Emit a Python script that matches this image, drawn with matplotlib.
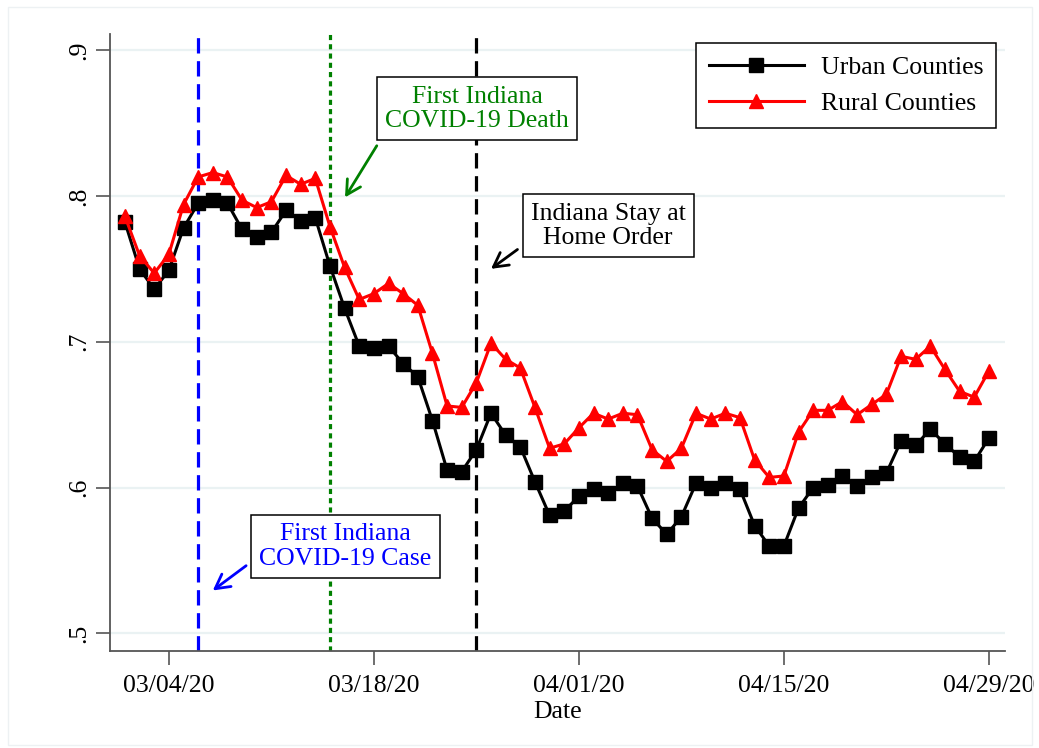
import numpy as np
import pandas as pd
import matplotlib
matplotlib.use('Agg')
import matplotlib.pyplot as plt
import matplotlib.dates as mdates
from matplotlib.patches import Rectangle

# DATA
urban = [0.782, 0.750, 0.736, 0.749, 0.778, 0.795, 0.797, 0.795, 0.777, 0.772,
         0.775, 0.790, 0.783, 0.785, 0.752, 0.723, 0.697, 0.696, 0.697, 0.685,
         0.676, 0.646, 0.612, 0.611, 0.626, 0.651, 0.636, 0.628, 0.604, 0.581,
         0.584, 0.594, 0.599, 0.596, 0.603, 0.601, 0.579, 0.568, 0.580, 0.603,
         0.600, 0.603, 0.599, 0.574, 0.560, 0.560, 0.586, 0.600, 0.602, 0.608,
         0.601, 0.607, 0.610, 0.632, 0.629, 0.640, 0.630, 0.621, 0.618, 0.634]
rural = [0.786, 0.759, 0.747, 0.760, 0.794, 0.813, 0.816, 0.813, 0.797, 0.792,
         0.796, 0.814, 0.808, 0.812, 0.779, 0.751, 0.729, 0.733, 0.740, 0.733,
         0.725, 0.692, 0.656, 0.655, 0.672, 0.699, 0.688, 0.682, 0.655, 0.627,
         0.630, 0.641, 0.651, 0.647, 0.651, 0.650, 0.626, 0.618, 0.627, 0.651,
         0.647, 0.651, 0.648, 0.619, 0.607, 0.608, 0.638, 0.653, 0.653, 0.659,
         0.650, 0.657, 0.664, 0.690, 0.688, 0.697, 0.681, 0.666, 0.662, 0.680]
start_date = '2020-03-01'
tick_dates = ['2020-03-04', '2020-03-18', '2020-04-01', '2020-04-15', '2020-04-29']
y_ticks = [0.5, 0.6, 0.7, 0.8, 0.9]
y_tick_labels = ['.5', '.6', '.7', '.8', '.9']

# events: date, label, colour, line style
event_dates = ['2020-03-06', '2020-03-15', '2020-03-25']
event_labels = ['First Indiana\nCOVID-19 Case', 'First Indiana\nCOVID-19 Death',
                'Indiana Stay at\nHome Order']
event_colors = ['#0000ff', '#008000', 'black']
event_styles = [(0, (4.8, 2.4)), (0, (1.6, 1.3)), (0, (4.8, 2.4))]

plt.rcParams['font.family'] = ['Liberation Serif', 'DejaVu Serif']
FS = 18.5
AX_GRAY = '#555555'

dates = pd.date_range(start_date, periods=len(urban), freq='D')
t0 = mdates.date2num(pd.Timestamp(start_date))

fig = plt.figure(figsize=(10.39, 7.48), dpi=100)
fig.patches.append(Rectangle((8 / 1039, 1 - 745 / 748), 1024 / 1039, 738 / 748,
                             transform=fig.transFigure, fill=False,
                             edgecolor='#edf1f3', lw=1))
ax = fig.add_axes([110 / 1039, 1 - 651 / 748, 895 / 1039, 617 / 748])

for y in y_ticks:
    ax.axhline(y, color='#eaf2f3', lw=1.6, zorder=0)

for d, c, ls in zip(event_dates, event_colors, event_styles):
    ax.axvline(pd.Timestamp(d), color=c, lw=2.3, linestyle=ls, zorder=1)

ax.plot(dates, urban, color='black', lw=2.2, marker='s', ms=10,
        label='Urban Counties', zorder=3)
ax.plot(dates, rural, color='red', lw=2.2, marker='^', ms=10.5,
        label='Rural Counties', zorder=3)

# annotation boxes: text centre and arrow tip, in (days from start, value)
box_pos = [(15.06, 0.5596), (24.04, 0.8596), (33.0, 0.7795)]
tip_pos = [(6.0, 0.5295), (15.03, 0.799), (25.0, 0.750)]
arrow_rel = [(0.0, 0.3), (0.0, 0.0), (0.0, 0.2)]
for lab, c, bp, tp, rp in zip(event_labels, event_colors, box_pos, tip_pos, arrow_rel):
    ax.annotate(lab, xy=(t0 + tp[0], tp[1]), xytext=(t0 + bp[0], bp[1]),
                ha='center', va='center', fontsize=FS, color=c,
                linespacing=1.15,
                bbox=dict(boxstyle='square,pad=0.32', fc='white', ec='black', lw=1.1),
                arrowprops=dict(arrowstyle='->,head_length=0.55,head_width=0.3',
                                color=c, lw=2, relpos=rp, shrinkA=4, shrinkB=0),
                zorder=4)

ax.set_xlim(t0 - 1.02, t0 + 60.1)
ax.set_ylim(0.488, 0.911)
ax.set_xticks([pd.Timestamp(d) for d in tick_dates])
ax.xaxis.set_major_formatter(mdates.DateFormatter('%m/%d/%y'))
ax.set_yticks(y_ticks)
ax.set_yticklabels(y_tick_labels, rotation=90, va='center')
ax.tick_params(axis='both', labelsize=FS, length=10, width=1.2, color=AX_GRAY,
               direction='out')
ax.tick_params(axis='x', pad=7)
ax.tick_params(axis='y', pad=4)
ax.set_xlabel('Date', fontsize=FS, labelpad=3)

for s in ['top', 'right']:
    ax.spines[s].set_visible(False)
for s in ['left', 'bottom']:
    ax.spines[s].set_color(AX_GRAY)
    ax.spines[s].set_linewidth(1.3)

leg = ax.legend(loc='upper right', fontsize=FS, frameon=True, fancybox=False,
                edgecolor='black', framealpha=1, handlelength=3.7,
                handletextpad=0.65, labelspacing=0.5, borderpad=0.5,
                borderaxespad=0.35)
leg.get_frame().set_linewidth(1.1)

fig.savefig('out.png', dpi=100)
